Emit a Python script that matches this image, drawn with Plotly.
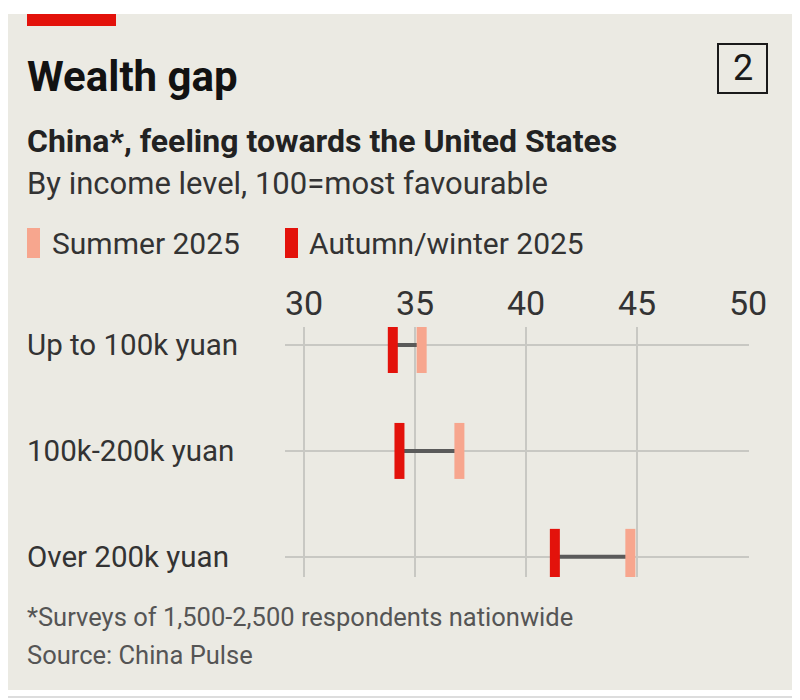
import plotly.graph_objects as go

# data
groups = ["Up to 100k yuan", "100k-200k yuan", "Over 200k yuan"]
summer = [35.3, 37.0, 44.7]
autumn = [34.0, 34.3, 41.3]
xticks = [30, 35, 40, 45, 50]

RED = "#E3120B"
PINK = "#F7A68E"
BG = "#EBEAE3"
GRID = "#C8C8C3"
FONT = "Roboto"

# page body adds an 8px margin, so work in screen pixels and shift
OFF = 8
W, H = 800, 700
L, T = 285 - OFF, 327 - OFF
R, B = W - (749 - OFF), H - (577 - OFF)
PW, PH = W - L - R, H - T - B


def px(x):
    return (x - OFF - L) / PW


def py(y):
    return 1 - (y - OFF - T) / PH


fig = go.Figure()

# connectors
for g, s, a in zip(groups, summer, autumn):
    fig.add_trace(go.Scatter(x=[a, s], y=[g, g], mode="lines",
                             line=dict(color="#5A5A5A", width=4),
                             hoverinfo="skip", showlegend=False))

fig.add_trace(go.Scatter(x=summer, y=groups, mode="markers", name="Summer 2025",
                         marker=dict(symbol="line-ns", size=40,
                                     line=dict(color=PINK, width=10)),
                         showlegend=False))
fig.add_trace(go.Scatter(x=autumn, y=groups, mode="markers", name="Autumn/winter 2025",
                         marker=dict(symbol="line-ns", size=40,
                                     line=dict(color=RED, width=10)),
                         showlegend=False))

x0 = 29.144
fig.update_xaxes(range=[x0, x0 + PW / 22.2], side="top", tickvals=xticks,
                 showgrid=True, gridcolor=GRID, gridwidth=2, zeroline=False,
                 showline=False, ticks="", ticklabelstandoff=4,
                 tickfont=dict(family=FONT, size=34, color="#333333"))
fig.update_yaxes(type="category", categoryorder="array", categoryarray=groups,
                 range=[2.19, -0.17], showgrid=True, gridcolor=GRID, gridwidth=2,
                 showticklabels=False, zeroline=False, showline=False, ticks="")

shapes = [
    # white border strips around the beige panel
    dict(type="rect", x0=px(0), x1=px(W + OFF), y0=py(0), y1=py(14), fillcolor="white", line_width=0),
    dict(type="rect", x0=px(0), x1=px(W + OFF), y0=py(690), y1=py(H + OFF), fillcolor="white", line_width=0),
    dict(type="rect", x0=px(795), x1=px(W + OFF), y0=py(0), y1=py(H + OFF), fillcolor="white", line_width=0),
    dict(type="line", x0=px(0), x1=px(W + OFF), y0=py(697), y1=py(697), line=dict(color="#DDDDDD", width=2)),
    # red tag
    dict(type="rect", x0=px(27), x1=px(116), y0=py(14), y1=py(26), fillcolor=RED, line_width=0),
    # numbered box
    dict(type="rect", x0=px(718), x1=px(767), y0=py(44), y1=py(93),
         fillcolor="rgba(0,0,0,0)", line=dict(color="#1A1A1A", width=2)),
    # legend swatches
    dict(type="rect", x0=px(27), x1=px(40), y0=py(228), y1=py(258), fillcolor=PINK, line_width=0),
    dict(type="rect", x0=px(285), x1=px(298), y0=py(228), y1=py(258), fillcolor=RED, line_width=0),
]
for s in shapes:
    s.update(xref="paper", yref="paper", layer="below")
fig.update_layout(shapes=shapes)


def note(text, x, y, size, color="#333333", bold=False, anchor="left"):
    fig.add_annotation(text=f"<b>{text}</b>" if bold else text, x=px(x), y=py(y),
                       xref="paper", yref="paper", xanchor=anchor, yanchor="middle",
                       showarrow=False, font=dict(family=FONT, size=size, color=color))


note("Wealth gap", 25, 76, 42, "#121212", bold=True)
note("2", 742.5, 68, 36, "#1A1A1A", anchor="center")
note("China*, feeling towards the United States", 25, 141, 32, "#222222", bold=True)
note("By income level, 100=most favourable", 25, 184, 31, "#333333")
note("Summer 2025", 50, 243, 30)
note("Autumn/winter 2025", 307, 243, 30)
note("*Surveys of 1,500-2,500 respondents nationwide", 25, 617, 25.5, "#555555")
note("Source: China Pulse", 25, 655, 25.5, "#555555")

for g in groups:
    fig.add_annotation(text=g, x=px(25), y=g, xref="paper", yref="y", xanchor="left",
                       yanchor="middle", showarrow=False,
                       font=dict(family=FONT, size=29.5, color="#333333"))

fig.update_layout(width=W, height=H, margin=dict(l=L, r=R, t=T, b=B),
                  paper_bgcolor=BG, plot_bgcolor=BG, showlegend=False)

fig.write_html("out.html")
